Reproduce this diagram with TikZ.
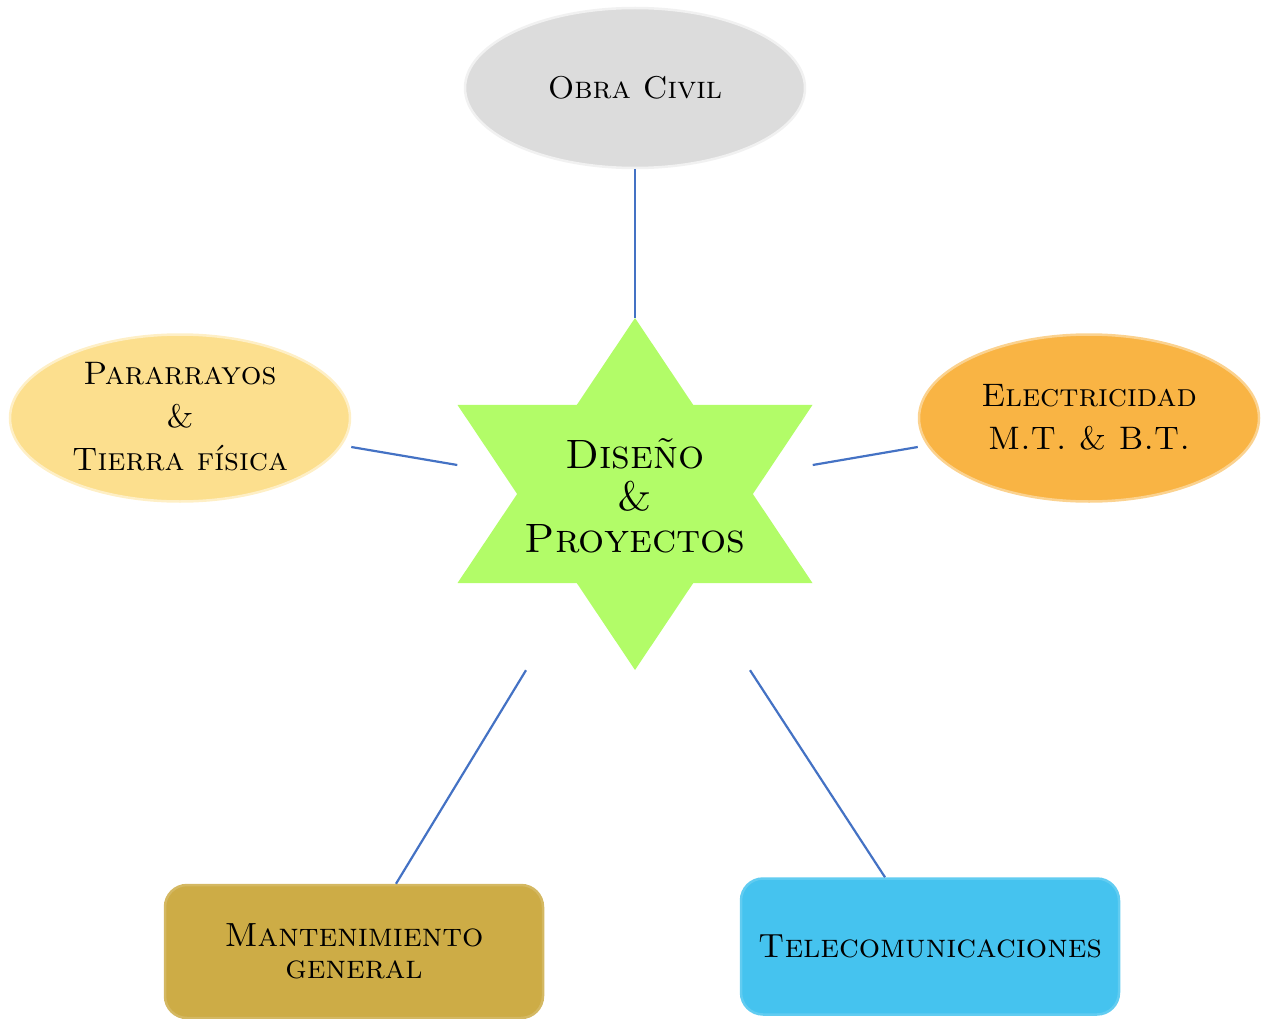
\documentclass[tikz,border=0pt]{standalone}
\usepackage{fontspec}
\usetikzlibrary{calc,shapes.geometric}
\definecolor{lineblue}{HTML}{4472C4}
\definecolor{civgray}{HTML}{DCDCDC}
\definecolor{pyellow}{HTML}{FCDF8E}
\definecolor{eorange}{HTML}{F9B444}
\definecolor{sgreen}{HTML}{B2FC68}
\definecolor{mgold}{HTML}{CDAC46}
\definecolor{tblue}{HTML}{45C3EF}
\begin{document}
\begin{tikzpicture}[x=1pt,y=-1pt,
  txt/.style={font=\fontsize{32.5}{43}\selectfont\scshape, align=center, text=black},
  ellbox/.style={ellipse, minimum width=340pt, minimum height=160pt, inner sep=0pt, line width=2.5pt},
  rbox/.style={rectangle, rounded corners=22pt, minimum width=378pt, inner sep=0pt, line width=2.5pt},
  conn/.style={draw=lineblue, line width=2.2pt}]
\useasboundingbox (0,0) rectangle (1261,1019);

% star frame node
\node[rectangle, minimum width=355pt, minimum height=352pt, inner sep=0pt,
  path picture={
    \coordinate (NW) at (path picture bounding box.north west);
    \coordinate (NE) at (path picture bounding box.north east);
    \coordinate (SW) at (path picture bounding box.south west);
    \coordinate (SE) at (path picture bounding box.south east);
    \coordinate (N) at (path picture bounding box.north);
    \coordinate (S) at (path picture bounding box.south);
    \fill[sgreen] (N) -- ($(SW)!0.247!(NW)$) -- ($(SE)!0.247!(NE)$) -- cycle;
    \fill[sgreen] (S) -- ($(NW)!0.247!(SW)$) -- ($(NE)!0.247!(SE)$) -- cycle;
  }] (dp) at (635,494) {};
\node[txt, font=\fontsize{41}{42}\selectfont\scshape] (dpt) at ([yshift=-2pt]dp.center) {Diseño\\\&\\Proyectos};

\node[ellbox, fill=civgray, draw=civgray!40!white] (oc) at (635,88) {};
\node[txt, font=\fontsize{31.5}{43}\selectfont\scshape] at (oc.center) {Obra Civil};

\node[ellbox, minimum height=167pt, fill=pyellow, draw=pyellow!50!white] (pr) at (180,418) {};
\node[txt] at ([yshift=1pt]pr.center) {Pararrayos\\\&\\Tierra física};

\node[ellbox, minimum height=167pt, fill=eorange, draw=eorange!60!white] (el) at (1089,418) {};
\node[txt] at ([yshift=1pt]el.center) {Electricidad\\M.T. \& B.T.};

\node[rbox, minimum height=133pt, fill=mgold, draw=mgold!85!white] (mg) at (354,951.5) {};
\node[txt, font=\fontsize{33.5}{32}\selectfont\scshape] at (mg.center) {Mantenimiento\\general};

\node[rbox, minimum height=136pt, fill=tblue, draw=tblue!85!white] (tc) at (930,946.5) {};
\node[txt, font=\fontsize{33.5}{43}\selectfont\scshape] at (tc.center) {Telecomunicaciones};

\draw[conn] (oc.south) -- (dp.north);
\draw[conn] ([yshift=-29pt]pr.east) -- ([yshift=29pt]dp.west);
\draw[conn] ([yshift=-29pt]el.west) -- ([yshift=29pt]dp.east);
\draw[conn] ([xshift=42pt]mg.north) -- ([xshift=-109pt]dp.south);
\draw[conn] ([xshift=-45pt]tc.north) -- ([xshift=115pt]dp.south);
\end{tikzpicture}
\end{document}
